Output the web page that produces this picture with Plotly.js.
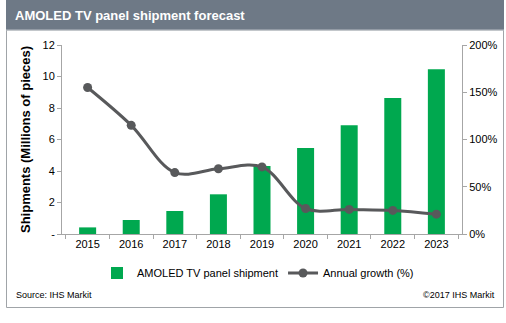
<!DOCTYPE html>
<html>
<head>
<meta charset="utf-8">
<script src="https://cdn.plot.ly/plotly-3.0.1.min.js"></script>
<style>html,body{margin:0;padding:0;background:#fff;}#chart{width:506px;height:323px;}</style>
</head>
<body>
<div id="chart"></div>
<script>
const years = ['2015','2016','2017','2018','2019','2020','2021','2022','2023'];
const shipments = [0.42, 0.89, 1.46, 2.52, 4.32, 5.46, 6.9, 8.63, 10.46];
const growth = [155, 115, 65, 69, 71, 27, 26, 25, 21];
const leftTickVals = [0, 2, 4, 6, 8, 10, 12];
const leftTickText = ['-', '2', '4', '6', '8', '10', '12'];
const rightTickVals = [0, 50, 100, 150, 200];
const rightTickText = ['0%', '50%', '100%', '150%', '200%'];

const F = 'Liberation Sans, Arial, sans-serif';
const axisGray = '#a6a6a6';

const traces = [
  {
    type: 'bar', x: years, y: shipments, name: 'AMOLED TV panel shipment',
    marker: {color: '#00a84f'}, yaxis: 'y'
  },
  {
    type: 'scatter', mode: 'lines+markers', x: years, y: growth, name: 'Annual growth (%)',
    line: {color: '#58595b', width: 3, shape: 'spline', smoothing: 1},
    marker: {color: '#58595b', size: 9}, yaxis: 'y2'
  }
];

const W = 506, H = 323, L = 62, R = 44, T = 45, B = 89;
const pw = W - L - R, ph = H - T - B;
const px = p => (p - L) / pw;
const py = q => (H - B - q) / ph;

const layout = {
  width: W, height: H,
  margin: {l: L, r: R, t: T, b: B, pad: 0},
  paper_bgcolor: '#ffffff', plot_bgcolor: 'rgba(0,0,0,0)',
  font: {family: F, size: 11, color: '#000'},
  showlegend: true,
  bargap: 0.61,
  legend: {orientation: 'h', x: 0.49, xanchor: 'center', y: py(273), yanchor: 'middle',
           font: {family: F, size: 11, color: '#000'}, bgcolor: 'rgba(0,0,0,0)',
           itemwidth: 30, tracegroupgap: 0},
  xaxis: {
    type: 'category', showline: true, linecolor: axisGray, linewidth: 1,
    ticks: 'outside', tickson: 'boundaries', ticklen: 4, tickcolor: axisGray,
    showgrid: false, zeroline: false, tickfont: {family: F, size: 11, color: '#000'}
  },
  yaxis: {
    range: [0, 12], tickvals: leftTickVals, ticktext: leftTickText,
    showline: true, linecolor: axisGray, ticks: 'outside', ticklen: 4, tickcolor: axisGray,
    showgrid: false, zeroline: false, tickfont: {family: F, size: 11, color: '#000'},
    title: {text: 'Shipments (Millions of pieces)', font: {family: F, size: 13, color: '#000', weight: 'bold'}, standoff: 8}
  },
  yaxis2: {
    overlaying: 'y', side: 'right', range: [0, 200], tickvals: rightTickVals, ticktext: rightTickText,
    showline: true, linecolor: axisGray, ticks: 'outside', ticklen: 4, tickcolor: axisGray,
    showgrid: false, zeroline: false, tickfont: {family: F, size: 11, color: '#000'}
  },
  shapes: [
    {type: 'rect', xref: 'paper', yref: 'paper', x0: px(6.5), x1: px(503.5), y0: py(307.5), y1: py(30),
     line: {color: '#a0a4a8', width: 1}, fillcolor: 'rgba(0,0,0,0)', layer: 'below'},
    {type: 'rect', xref: 'paper', yref: 'paper', x0: px(6), x1: px(504), y0: py(30), y1: py(0),
     line: {width: 0}, fillcolor: '#6e7986', layer: 'below'},
    {type: 'line', xref: 'paper', yref: 'paper', x0: px(6), x1: px(504), y0: py(30), y1: py(30),
     line: {color: '#b8bec4', width: 1}, layer: 'below'}
  ],
  annotations: [
    {text: '<b>AMOLED TV panel shipment forecast</b>', xref: 'paper', yref: 'paper',
     x: px(13), y: py(16), xanchor: 'left', yanchor: 'middle', showarrow: false,
     font: {family: F, size: 13, color: '#ffffff'}},
    {text: 'Source: IHS Markit', xref: 'paper', yref: 'paper',
     x: px(14), y: py(295), xanchor: 'left', yanchor: 'middle', showarrow: false,
     font: {family: F, size: 9, color: '#000'}},
    {text: '©2017 IHS Markit', xref: 'paper', yref: 'paper',
     x: px(497), y: py(295), xanchor: 'right', yanchor: 'middle', showarrow: false,
     font: {family: F, size: 9, color: '#000'}}
  ]
};

Plotly.newPlot('chart', traces, layout, {displayModeBar: false, staticPlot: true});
</script>
</body>
</html>
